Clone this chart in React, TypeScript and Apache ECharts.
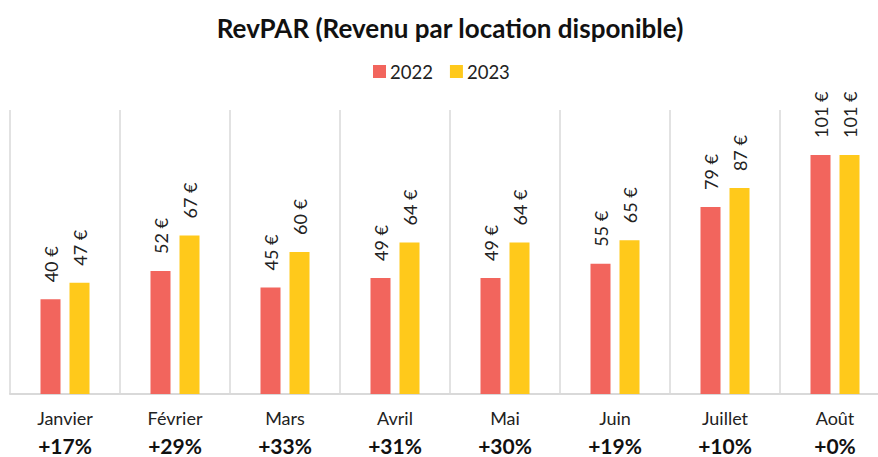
import React, { useEffect, useRef } from "react";
import * as echarts from "echarts";

const categories = ["Janvier", "Février", "Mars", "Avril", "Mai", "Juin", "Juillet", "Août"];
const values2022 = [40, 52, 45, 49, 49, 55, 79, 101];
const values2023 = [47, 67, 60, 64, 64, 65, 87, 101];
const changes = ["+17%", "+29%", "+33%", "+31%", "+30%", "+19%", "+10%", "+0%"];

const FONT = "Lato, 'Open Sans', sans-serif";

export default function App() {
  const ref = useRef<HTMLDivElement>(null);
  useEffect(() => {
    document.body.style.margin = "0";
    if (!ref.current) return;
    const chart = echarts.init(ref.current, null, { renderer: "svg" });
    const label = {
      show: true,
      position: "top",
      rotate: 90,
      align: "left",
      verticalAlign: "middle",
      distance: 17,
      fontFamily: FONT,
      fontSize: 18,
      color: "#222",
      formatter: (p: any) => `${p.value} €`,
    };
    chart.setOption({
      animation: false,
      backgroundColor: "#fff",
      title: {
        text: "RevPAR (Revenu par location disponible)",
        left: "center",
        top: 10,
        textStyle: { fontFamily: FONT, fontWeight: "bold", fontSize: 26, color: "#111" },
      },
      legend: {
        top: 57,
        left: 368,
        itemWidth: 13,
        itemHeight: 13,
        itemGap: 17,
        icon: "rect",
        textStyle: { fontFamily: FONT, fontSize: 18.5, color: "#222", padding: [0, 0, 0, -1] },
        data: ["2022", "2023"],
      },
      grid: { left: 10, width: 880, top: 110, height: 284, outerBoundsMode: "none", containLabel: false },
      xAxis: {
        type: "category",
        data: categories,
        axisLine: { lineStyle: { color: "#d9d9d9", width: 2 } },
        axisTick: { show: false },
        splitLine: { show: true, lineStyle: { color: "#d9d9d9", width: 1.5 } },
        axisLabel: {
          margin: 5,
          interval: 0,
          formatter: (v: string, i: number) => `{a|${v}}\n{b|${changes[i]}}`,
          rich: {
            a: { fontFamily: FONT, fontSize: 18, color: "#222", lineHeight: 37 },
            b: { fontFamily: FONT, fontSize: 21, fontWeight: "bold", color: "#111", lineHeight: 18 },
          },
        },
      },
      yAxis: { type: "value", min: 0, max: 120, show: false, splitLine: { show: false } },
      series: [
        {
          name: "2022",
          type: "bar",
          data: values2022,
          barWidth: 20,
          barGap: "45%",
          itemStyle: { color: "#F2655D" },
          label,
        },
        {
          name: "2023",
          type: "bar",
          data: values2023,
          barWidth: 20,
          itemStyle: { color: "#FFC91B" },
          label,
        },
      ],
    });
    return () => chart.dispose();
  }, []);
  return (
    <div style={{ width: 878, height: 457, overflow: "hidden", position: "relative" }}>
      <div ref={ref} style={{ width: 900, height: 457 }} />
    </div>
  );
}
